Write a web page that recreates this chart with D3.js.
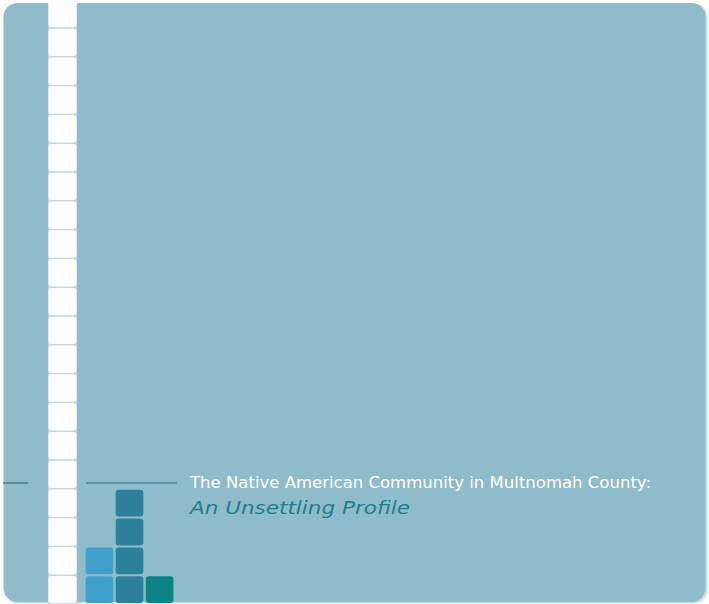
<!DOCTYPE html>
<html><head><meta charset="utf-8">
<script src="https://cdn.jsdelivr.net/npm/d3@7"></script>
<style>html,body{margin:0;padding:0;background:#fff;}svg{display:block;}</style>
</head><body>
<script>
// Data
const categories = ["A", "B", "C"];
const values = [2, 4, 1];
const barColors = ["#409fcb", "#2d809b", "#0e8383"];
const stripCells = 21;
const titleLine1 = "The Native American Community in Multnomah County:";
const titleLine2 = "An Unsettling Profile";

const W = 709, H = 604;
const svg = d3.select("body").append("svg").attr("width", W).attr("height", H);

// panel
svg.append("rect").attr("x", 4.5).attr("y", 3.5).attr("width", 703).attr("height", 600)
  .attr("rx", 14).attr("fill", "#d0dde2");
svg.append("rect").attr("x", 3.5).attr("y", 3).attr("width", 702).attr("height", 599)
  .attr("rx", 14).attr("fill", "#8fbccb");

// scales
const pitch = 28.8;
const y = d3.scaleLinear().domain([0, stripCells]).range([H, H - stripCells * pitch]);
const x = d3.scaleBand().domain(categories).range([85, 174]).paddingInner(0.08).paddingOuter(0.02);

// strip
svg.append("rect").attr("x", 48).attr("y", 0).attr("width", 29).attr("height", H).attr("fill", "#c3d6dc");
svg.append("g").selectAll("rect").data(d3.range(stripCells)).join("rect")
  .attr("x", 48.5).attr("width", 28)
  .attr("y", d => y(d + 1) + 0.7).attr("height", d => y(d) - y(d + 1) - 1.4)
  .attr("rx", 3).attr("fill", "#ffffff");
svg.append("rect").attr("x", 48).attr("y", 0).attr("width", 29).attr("height", 4).attr("fill", "#ffffff");

// bars as stacked cells
const cells = [];
values.forEach((v, i) => { for (let k = 0; k < v; k++) cells.push({ c: categories[i], k, color: barColors[i] }); });
svg.append("g").selectAll("rect").data(cells).join("rect")
  .attr("x", d => x(d.c)).attr("width", x.bandwidth())
  .attr("y", d => y(d.k + 1) + 1).attr("height", d => y(d.k) - y(d.k + 1) - 2)
  .attr("rx", 3).attr("fill", d => d.color);

// rules
const ruleY = 483;
svg.append("line").attr("x1", 3).attr("x2", 28).attr("y1", ruleY).attr("y2", ruleY)
  .attr("stroke", "#2f6e7f").attr("stroke-width", 1.2);
svg.append("line").attr("x1", 86).attr("x2", 177).attr("y1", ruleY).attr("y2", ruleY)
  .attr("stroke", "#2f6e7f").attr("stroke-width", 1.2);

// titles
svg.append("text").attr("x", 190).attr("y", 488)
  .attr("font-family", "'DejaVu Sans', sans-serif").attr("font-size", 16)
  .attr("fill", "#ffffff").attr("textLength", 461).attr("lengthAdjust", "spacingAndGlyphs")
  .text(titleLine1);
svg.append("text").attr("x", 190).attr("y", 514)
  .attr("font-family", "'DejaVu Sans', sans-serif").attr("font-size", 18).attr("font-style", "italic")
  .attr("fill", "#1f7f8c").attr("textLength", 220).attr("lengthAdjust", "spacingAndGlyphs")
  .text(titleLine2);
</script>
</body></html>
